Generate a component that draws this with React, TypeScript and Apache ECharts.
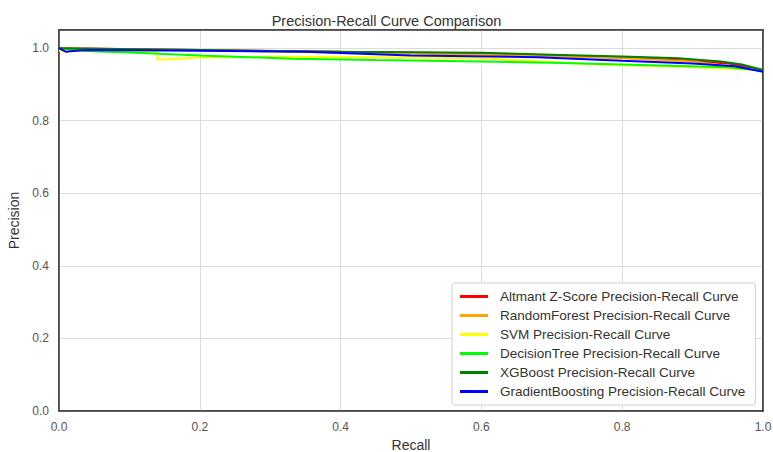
import React, { useEffect, useRef } from "react";
import * as echarts from "echarts";

const seriesNames = [
  "Altmant Z-Score Precision-Recall Curve",
  "RandomForest Precision-Recall Curve",
  "SVM Precision-Recall Curve",
  "DecisionTree Precision-Recall Curve",
  "XGBoost Precision-Recall Curve",
  "GradientBoosting Precision-Recall Curve",
];
const seriesColors = ["#ff0000", "#ffa500", "#ffff00", "#00ff00", "#008000", "#0000ff"];

const altmanRecall = [0, 0.2, 0.4, 0.6, 0.8, 0.89, 0.95, 1.0];
const altmanPrecision = [1.0, 0.995, 0.99, 0.985, 0.975, 0.966, 0.958, 0.94];

const rfRecall = [0, 0.2, 0.4, 0.6, 0.8, 0.9, 1.0];
const rfPrecision = [1.0, 0.994, 0.988, 0.982, 0.972, 0.963, 0.938];

const svmRecall = [0, 0.14, 0.14, 0.2, 0.3, 0.45, 0.6, 0.7, 0.75, 0.8, 0.9, 1.0];
const svmPrecision = [0.993, 0.99, 0.968, 0.974, 0.976, 0.975, 0.972, 0.962, 0.956, 0.953, 0.948, 0.94];

const dtRecall = [0, 0.04, 0.1, 0.2, 0.33, 0.45, 0.6, 0.7, 0.8, 0.88, 0.95, 1.0];
const dtPrecision = [1.0, 0.992, 0.988, 0.98, 0.971, 0.967, 0.963, 0.96, 0.955, 0.951, 0.947, 0.938];

const xgbRecall = [0, 0.2, 0.4, 0.6, 0.7, 0.8, 0.88, 0.94, 0.97, 1.0];
const xgbPrecision = [1.0, 0.995, 0.99, 0.987, 0.982, 0.977, 0.972, 0.963, 0.955, 0.94];

const gbRecall = [0, 0.01, 0.02, 0.04, 0.2, 0.35, 0.5, 0.68, 0.8, 0.9, 0.96, 1.0];
const gbPrecision = [1.0, 0.99, 0.992, 0.995, 0.993, 0.99, 0.98, 0.975, 0.965, 0.958, 0.95, 0.935];

const recallSets = [altmanRecall, rfRecall, svmRecall, dtRecall, xgbRecall, gbRecall];
const precisionSets = [altmanPrecision, rfPrecision, svmPrecision, dtPrecision, xgbPrecision, gbPrecision];

const xTicks = [0, 0.2, 0.4, 0.6, 0.8, 1.0];
const yTicks = [0, 0.2, 0.4, 0.6, 0.8, 1.0];

export default function App() {
  const ref = useRef<HTMLDivElement>(null);
  useEffect(() => {
    if (!ref.current) return;
    const chart = echarts.init(ref.current, undefined, { renderer: "svg" });
    const font = "'Liberation Sans', Arial, sans-serif";
    const frame = { show: true, onZero: false, lineStyle: { color: "#3c3c3c", width: 1.5 } };
    chart.setOption({
      animation: false,
      backgroundColor: "#ffffff",
      title: {
        text: "Precision-Recall Curve Comparison",
        left: "center",
        top: 8,
        textStyle: { fontSize: 14.5, fontWeight: "normal", color: "#333", fontFamily: font },
      },
      grid: {
        left: 59,
        right: 10,
        top: 30,
        bottom: 41,
        show: true,
        outerBoundsMode: "none",
        containLabel: false,
        borderColor: "#3c3c3c",
        borderWidth: 1.5,
        backgroundColor: "transparent",
      },
      legend: {
        orient: "vertical",
        left: 452,
        top: 283,
        z: 20,
        padding: [6, 10, 6, 8],
        backgroundColor: "#ffffff",
        borderColor: "#d0d0d0",
        borderWidth: 1,
        borderRadius: 3,
        itemWidth: 28,
        itemHeight: 3,
        itemGap: 4,
        icon: "rect",
        textStyle: { fontSize: 13.5, color: "#333", fontFamily: font, lineHeight: 15, padding: [0, 0, 0, 7] },
        data: seriesNames,
      },
      xAxis: [
        {
          type: "value",
          min: 0,
          max: 1,
          interval: 0.2,
          name: "Recall",
          nameLocation: "middle",
          nameGap: 24,
          nameTextStyle: { fontSize: 14, color: "#333", fontFamily: font },
          axisLine: frame,
          axisTick: { show: false },
          axisLabel: {
            fontSize: 12,
            color: "#555",
            fontFamily: font,
            margin: 10,
            formatter: (v: number) => (xTicks.some((t) => Math.abs(t - v) < 1e-6) ? v.toFixed(1) : ""),
          },
          splitLine: { show: true, lineStyle: { color: "#dcdcdc", width: 1 } },
        },
        {
          type: "value",
          position: "top",
          min: 0,
          max: 1,
          axisLine: frame,
          axisTick: { show: false },
          axisLabel: { show: false },
          splitLine: { show: false },
        },
      ],
      yAxis: [
        {
          type: "value",
          min: 0,
          max: 1.05,
          interval: 0.2,
          name: "Precision",
          nameLocation: "middle",
          nameGap: 35,
          nameTextStyle: { fontSize: 14, color: "#333", fontFamily: font },
          axisLine: frame,
          axisTick: { show: false },
          axisLabel: {
            fontSize: 12,
            color: "#555",
            fontFamily: font,
            margin: 10,
            showMaxLabel: false,
            formatter: (v: number) => (yTicks.some((t) => Math.abs(t - v) < 1e-6) ? v.toFixed(1) : ""),
          },
          splitLine: { show: true, lineStyle: { color: "#dcdcdc", width: 1 } },
        },
        {
          type: "value",
          position: "right",
          min: 0,
          max: 1.05,
          axisLine: frame,
          axisTick: { show: false },
          axisLabel: { show: false },
          splitLine: { show: false },
        },
      ],
      series: seriesNames.map((name, i) => ({
        name,
        type: "line",
        showSymbol: false,
        symbol: "none",
        color: seriesColors[i],
        lineStyle: { color: seriesColors[i], width: 2 },
        data: recallSets[i].map((r, j) => [r, precisionSets[i][j]]),
      })),
    });
    return () => chart.dispose();
  }, []);
  return <div ref={ref} style={{ width: 773, height: 452, position: "absolute", left: 0, top: 0 }} />;
}
